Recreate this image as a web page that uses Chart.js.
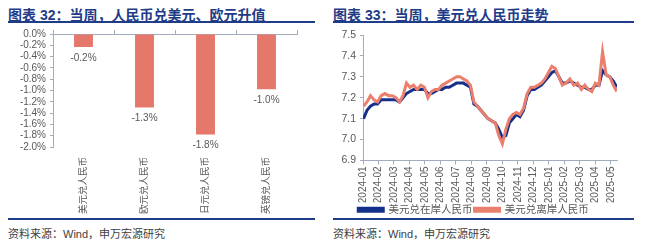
<!DOCTYPE html>
<html>
<head>
<meta charset="utf-8">
<script src="https://cdn.jsdelivr.net/npm/chart.js@4.4.1/dist/chart.umd.min.js"></script>
<style>
body { margin: 0; width: 660px; height: 246px; background: #fff; position: relative; overflow: hidden;
       font-family: "Liberation Sans", "Noto Sans CJK SC", sans-serif; }
.title { position: absolute; top: 4px; font-size: 14px; font-weight: bold; color: #1F3C88; white-space: nowrap;
         font-family: "Liberation Sans", "Noto Sans CJK SC", sans-serif; }
.rule { position: absolute; height: 2px; background: #1F3C88; }
.src { position: absolute; top: 225px; font-size: 11px; color: #404040; white-space: nowrap; }
.box { position: absolute; top: 24px; height: 192px; }
</style>
</head>
<body>
<div class="title" style="left:8px">图表 32：当周，人民币兑美元、欧元升值</div>
<div class="rule" style="left:8px;width:307px;top:21px"></div>
<div class="box" style="left:0;width:320px"><canvas id="barChart"></canvas></div>
<div class="rule" style="left:8px;width:307px;top:218px;height:1.5px"></div>
<div class="src" style="left:8px">资料来源：Wind，申万宏源研究</div>

<div class="title" style="left:333px">图表 33：当周，美元兑人民币走势</div>
<div class="rule" style="left:333px;width:301px;top:21px"></div>
<div class="box" style="left:330px;width:310px"><canvas id="lineChart"></canvas></div>
<div class="rule" style="left:333px;width:301px;top:218px;height:1.5px"></div>
<div class="src" style="left:333px">资料来源：Wind，申万宏源研究</div>

<script>
// chart 32: weekly change vs CNY (%)
const pairs = ['美元兑人民币', '欧元兑人民币', '日元兑人民币', '英镑兑人民币'];
const weeklyChange = [-0.23, -1.30, -1.78, -0.98];

// chart 33: USD/CNY, weekly readings from 2024-01-02
const firstDate = '2024-01-02';
const monthLabels = ['2024-01', '2024-02', '2024-03', '2024-04', '2024-05', '2024-06', '2024-07', '2024-08',
    '2024-09', '2024-10', '2024-11', '2024-12', '2025-01', '2025-02', '2025-03', '2025-04', '2025-05'];
const onshore = [7.10, 7.14, 7.16, 7.17, 7.17, 7.19, 7.19, 7.19, 7.19, 7.19,
    7.18, 7.20, 7.22, 7.23, 7.24, 7.24, 7.24, 7.24, 7.22, 7.22,
    7.23, 7.24, 7.24, 7.25, 7.25, 7.26, 7.27, 7.27, 7.27, 7.26,
    7.25, 7.17, 7.16, 7.14, 7.12, 7.10, 7.09, 7.08, 7.05, 7.01,
    7.02, 7.08, 7.10, 7.12, 7.11, 7.14, 7.21, 7.24, 7.24, 7.25,
    7.26, 7.28, 7.30, 7.32, 7.33, 7.30, 7.27, 7.27, 7.28, 7.27,
    7.26, 7.25, 7.25, 7.24, 7.24, 7.26, 7.26, 7.33, 7.31, 7.30,
    7.28, 7.25];
const offshore = [7.16, 7.18, 7.21, 7.19, 7.18, 7.21, 7.22, 7.21, 7.21, 7.20,
    7.18, 7.21, 7.27, 7.25, 7.26, 7.24, 7.26, 7.25, 7.20, 7.23,
    7.24, 7.24, 7.26, 7.27, 7.28, 7.29, 7.30, 7.30, 7.29, 7.28,
    7.26, 7.18, 7.16, 7.14, 7.12, 7.10, 7.09, 7.08, 7.02, 6.98,
    7.05, 7.10, 7.12, 7.13, 7.12, 7.15, 7.22, 7.25, 7.25, 7.26,
    7.27, 7.29, 7.32, 7.35, 7.34, 7.30, 7.26, 7.27, 7.29, 7.26,
    7.27, 7.24, 7.26, 7.24, 7.23, 7.27, 7.26, 7.42, 7.31, 7.30,
    7.26, 7.23];

const FONT = '"Liberation Sans", "Noto Sans CJK SC", sans-serif';
const AXIS = '#A3ACBF';
const LABEL = '#595959';

// month position (0 = 2024-01-01) for each weekly reading
function monthPos(d) {
    const dim = new Date(d.getFullYear(), d.getMonth() + 1, 0).getDate();
    return (d.getFullYear() - 2024) * 12 + d.getMonth() + (d.getDate() - 1) / dim;
}
const start = new Date(firstDate + 'T00:00:00');
const xs = onshore.map((v, i) => monthPos(new Date(start.getFullYear(), start.getMonth(), start.getDate() + 7 * i)));

const barLabels = {
    id: 'barLabels',
    afterDatasetsDraw(chart) {
        const ctx = chart.ctx;
        ctx.save();
        ctx.font = '10px ' + FONT;
        ctx.fillStyle = LABEL;
        ctx.textAlign = 'center';
        ctx.textBaseline = 'middle';
        chart.getDatasetMeta(0).data.forEach((bar, i) => {
            ctx.fillText(weeklyChange[i].toFixed(1) + '%', bar.x, bar.y + 11);
        });
        ctx.restore();
    }
};

// legend sits tight under the rotated month labels
const shortLegend = {
    id: 'shortLegend',
    beforeInit(chart) {
        const fit = chart.legend.fit;
        chart.legend.fit = function () {
            fit.call(this);
            this.height -= 9;
        };
    }
};

new Chart(document.getElementById('barChart'), {
    type: 'bar',
    data: {
        labels: pairs,
        datasets: [{
            data: weeklyChange,
            backgroundColor: '#E5786B',
            barPercentage: 0.62,
            categoryPercentage: 0.5,
            xAxisID: 'x'
        }]
    },
    options: {
        responsive: true,
        maintainAspectRatio: false,
        animation: false,
        layout: { padding: { top: 9, right: 23, bottom: 0, left: 0 } },
        plugins: { legend: { display: false }, tooltip: { enabled: false } },
        scales: {
            x: {
                position: 'bottom',
                grid: { display: false },
                border: { display: false },
                ticks: { color: LABEL, font: { size: 9.5, family: FONT }, minRotation: 90, maxRotation: 90, padding: 2 },
                afterFit: s => { s.height = 69; }
            },
            x2: {
                type: 'category',
                labels: pairs,
                position: 'top',
                offset: true,
                grid: { drawOnChartArea: false, tickLength: 4, color: AXIS },
                border: { color: AXIS },
                ticks: { display: false },
                afterFit: s => { s.height = 0; }
            },
            y: {
                min: -2, max: 0,
                grid: { drawOnChartArea: false, tickLength: 3, color: AXIS },
                border: { color: AXIS },
                ticks: {
                    stepSize: 0.2, autoSkip: false, color: LABEL, font: { size: 10, family: FONT }, padding: 4,
                    callback: v => (Math.abs(v) < 1e-9 ? 0 : v).toFixed(1) + '%'
                },
                afterFit: s => { s.width = 53; }
            }
        }
    },
    plugins: [barLabels]
});

new Chart(document.getElementById('lineChart'), {
    type: 'line',
    data: {
        datasets: [{
            label: '美元兑在岸人民币',
            data: onshore.map((v, i) => ({ x: xs[i], y: v })),
            borderColor: '#14308A',
            backgroundColor: '#14308A',
            borderWidth: 3,
            pointRadius: 0,
            tension: 0,
            order: 1
        }, {
            label: '美元兑离岸人民币',
            data: offshore.map((v, i) => ({ x: xs[i], y: v })),
            borderColor: '#EB7F6E',
            backgroundColor: '#EB7F6E',
            borderWidth: 3,
            pointRadius: 0,
            tension: 0,
            order: 0
        }]
    },
    options: {
        responsive: true,
        maintainAspectRatio: false,
        animation: false,
        layout: { padding: { top: 11, right: 23, bottom: 0, left: 0 } },
        plugins: {
            tooltip: { enabled: false },
            legend: {
                position: 'bottom',
                labels: {
                    boxWidth: 25, boxHeight: 3, padding: 2,
                    color: LABEL, font: { size: 10.5, family: FONT },
                    sort: (a, b) => a.datasetIndex - b.datasetIndex
                }
            }
        },
        scales: {
            x: {
                type: 'linear',
                min: 0, max: 16.4,
                grid: { drawOnChartArea: false, tickLength: 4, color: AXIS },
                border: { color: AXIS },
                ticks: {
                    stepSize: 1, autoSkip: false, includeBounds: false, color: LABEL, font: { size: 10, family: FONT },
                    minRotation: 90, maxRotation: 90, padding: 2,
                    callback: v => {
                        const m = Math.round(v);
                        return Math.abs(v - m) < 1e-6 ? (monthLabels[m] || '') : '';
                    }
                },
                afterFit: s => { s.height = 42; }
            },
            y: {
                min: 6.9, max: 7.5,
                grid: { drawOnChartArea: false, tickLength: 3, color: AXIS },
                border: { color: AXIS },
                ticks: {
                    stepSize: 0.1, color: LABEL, font: { size: 10.5, family: FONT }, padding: 4,
                    callback: v => v.toFixed(1)
                },
                afterFit: s => { s.width = 33; }
            }
        }
    },
    plugins: [shortLegend]
});
</script>
</body>
</html>
